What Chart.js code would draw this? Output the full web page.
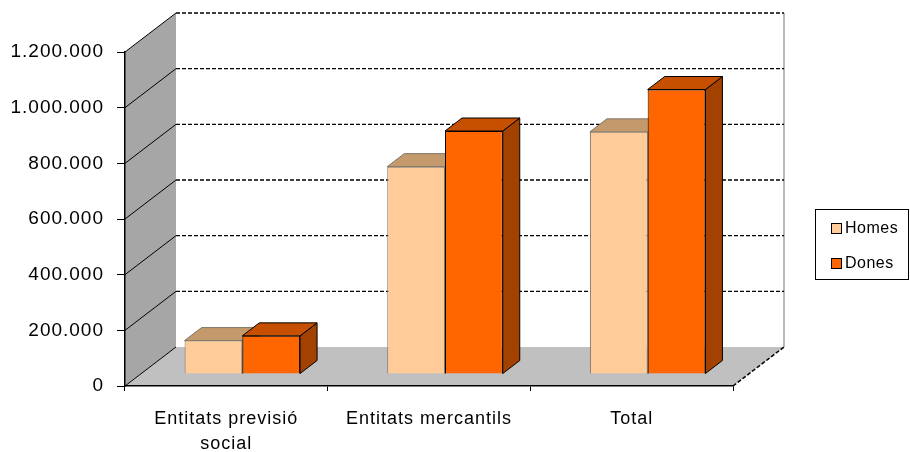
<!DOCTYPE html>
<html>
<head>
<meta charset="utf-8">
<script src="https://cdn.jsdelivr.net/npm/chart.js@4.4.1/dist/chart.umd.min.js"></script>
<style>
  html, body { margin: 0; padding: 0; background: #fff; }
  #wrap { width: 910px; height: 452px; position: relative; }
</style>
</head>
<body>
<div id="wrap"><canvas id="canvas"></canvas></div>
<script>
const categories = [['Entitats previsió', 'social'], 'Entitats mercantils', 'Total'];
const seriesNames = ['Homes', 'Dones'];
const homes = [120000, 745000, 870000];
const dones = [137000, 873000, 1022000];
const yTicks = [0, 200000, 400000, 600000, 800000, 1000000, 1200000];
const yTickLabels = ['0', '200.000', '400.000', '600.000', '800.000', '1.000.000', '1.200.000'];

const frontColors = ['#FFCC99', '#FF6600'];
const topColors = ['#C49A6C', '#C65000'];
const sideColors = ['#A07850', '#A34100'];
const edgeColors = ['#7f7466', '#000000'];

// 3d offsets
const WALL = { dx: 51, dy: 39 };   // full depth of the plot box
const SHIFT = { dx: 16, dy: 12 };  // where the bar fronts sit
const BAR = { dx: 17, dy: 13 };    // depth of each bar

const font = 'Liberation Sans, Arial, sans-serif';

const box3d = {
    id: 'box3d',
    beforeDraw(chart) {
        const ctx = chart.ctx;
        const a = chart.chartArea;
        const y = chart.scales.y;
        ctx.save();
        // side wall
        ctx.fillStyle = '#A6A6A6';
        ctx.beginPath();
        ctx.moveTo(a.left, a.bottom);
        ctx.lineTo(a.left, a.top);
        ctx.lineTo(a.left + WALL.dx, a.top - WALL.dy);
        ctx.lineTo(a.left + WALL.dx, a.bottom - WALL.dy);
        ctx.closePath();
        ctx.fill();
        // back wall
        ctx.fillStyle = '#ffffff';
        ctx.fillRect(a.left + WALL.dx, a.top - WALL.dy, a.right - a.left, a.bottom - a.top);
        ctx.strokeStyle = '#A0A0A0';
        ctx.lineWidth = 1.5;
        ctx.beginPath();
        ctx.moveTo(a.right + WALL.dx, a.top - WALL.dy);
        ctx.lineTo(a.right + WALL.dx, a.bottom - WALL.dy);
        ctx.stroke();
        // floor
        ctx.fillStyle = '#C0C0C0';
        ctx.beginPath();
        ctx.moveTo(a.left, a.bottom);
        ctx.lineTo(a.right, a.bottom);
        ctx.lineTo(a.right + WALL.dx, a.bottom - WALL.dy);
        ctx.lineTo(a.left + WALL.dx, a.bottom - WALL.dy);
        ctx.closePath();
        ctx.fill();
        // grid lines
        ctx.strokeStyle = '#000000';
        yTicks.forEach(v => {
            const py = y.getPixelForValue(v);
            ctx.lineWidth = 1;
            ctx.setLineDash([]);
            ctx.beginPath();
            ctx.moveTo(a.left, py);
            ctx.lineTo(a.left + WALL.dx, py - WALL.dy);
            ctx.stroke();
            if (v > 0) {
                ctx.lineWidth = 1.3;
                ctx.setLineDash([4, 2]);
                ctx.beginPath();
                ctx.moveTo(a.left + WALL.dx, py - WALL.dy);
                ctx.lineTo(a.right + WALL.dx, py - WALL.dy);
                ctx.stroke();
            }
        });
        // right floor edge
        ctx.setLineDash([4, 2]);
        ctx.lineWidth = 1.5;
        ctx.beginPath();
        ctx.moveTo(a.right, a.bottom);
        ctx.lineTo(a.right + WALL.dx, a.bottom - WALL.dy);
        ctx.stroke();
        ctx.restore();
        ctx.letterSpacing = '1px';
    },
    beforeDatasetsDraw(chart) {
        const ctx = chart.ctx;
        ctx.save();
        ctx.translate(SHIFT.dx, -SHIFT.dy);
        chart.data.datasets.forEach((ds, di) => {
            chart.getDatasetMeta(di).data.forEach(bar => {
                const l = bar.x - bar.width / 2;
                const r = bar.x + bar.width / 2;
                ctx.lineWidth = 1;
                ctx.strokeStyle = edgeColors[di];
                // side
                ctx.fillStyle = sideColors[di];
                ctx.beginPath();
                ctx.moveTo(r, bar.y);
                ctx.lineTo(r + BAR.dx, bar.y - BAR.dy);
                ctx.lineTo(r + BAR.dx, bar.base - BAR.dy);
                ctx.lineTo(r, bar.base);
                ctx.closePath();
                ctx.fill();
                ctx.stroke();
                // top
                ctx.fillStyle = topColors[di];
                ctx.beginPath();
                ctx.moveTo(l, bar.y);
                ctx.lineTo(l + BAR.dx, bar.y - BAR.dy);
                ctx.lineTo(r + BAR.dx, bar.y - BAR.dy);
                ctx.lineTo(r, bar.y);
                ctx.closePath();
                ctx.fill();
                ctx.stroke();
            });
        });
    },
    afterDatasetsDraw(chart) {
        chart.ctx.restore();
    },
    afterDraw(chart) {
        // legend box
        const ctx = chart.ctx;
        ctx.save();
        ctx.fillStyle = '#fff';
        ctx.fillRect(815, 209, 94, 71);
        ctx.strokeStyle = '#000';
        ctx.lineWidth = 1;
        ctx.strokeRect(815.5, 209.5, 93, 70);
        ctx.font = '16px ' + font;
        ctx.letterSpacing = '0.5px';
        ctx.textBaseline = 'middle';
        chart.data.datasets.forEach((ds, i) => {
            const cy = 228 + i * 35;
            ctx.fillStyle = ds.backgroundColor;
            ctx.fillRect(831, cy - 5, 11, 11);
            ctx.strokeRect(831.5, cy - 4.5, 10, 10);
            ctx.fillStyle = '#000';
            ctx.fillText(ds.label, 845, cy + 1);
        });
        ctx.restore();
    }
};

new Chart(document.getElementById('canvas'), {
    type: 'bar',
    data: {
        labels: categories,
        datasets: [
            { label: seriesNames[0], data: homes, backgroundColor: frontColors[0], borderColor: edgeColors[0], borderWidth: 1 },
            { label: seriesNames[1], data: dones, backgroundColor: frontColors[1], borderColor: edgeColors[1], borderWidth: 1 }
        ]
    },
    options: {
        responsive: true,
        maintainAspectRatio: false,
        animation: false,
        layout: { padding: { top: 52, right: 177, left: 0, bottom: 0 } },
        plugins: { legend: { display: false }, tooltip: { enabled: false } },
        datasets: { bar: { categoryPercentage: 0.57, barPercentage: 1.0 } },
        scales: {
            x: {
                afterFit(scale) { scale.height = 66; },
                grid: { drawOnChartArea: false, tickLength: 5, color: '#000' },
                border: { color: '#000', width: 1.5 },
                ticks: { color: '#000', padding: 16, maxRotation: 0, autoSkip: false,
                    font: { family: font, size: 18, lineHeight: 1.39 } }
            },
            y: {
                min: 0,
                max: yTicks[yTicks.length - 1],
                afterFit(scale) { scale.width = 125; },
                grid: { drawOnChartArea: false, tickLength: 8, color: '#000' },
                border: { color: '#000', width: 1.5 },
                ticks: { stepSize: yTicks[1] - yTicks[0], color: '#000', padding: 13,
                    font: { family: font, size: 19 },
                    callback: (v, i) => yTickLabels[i] }
            }
        }
    },
    plugins: [box3d]
});
</script>
</body>
</html>
